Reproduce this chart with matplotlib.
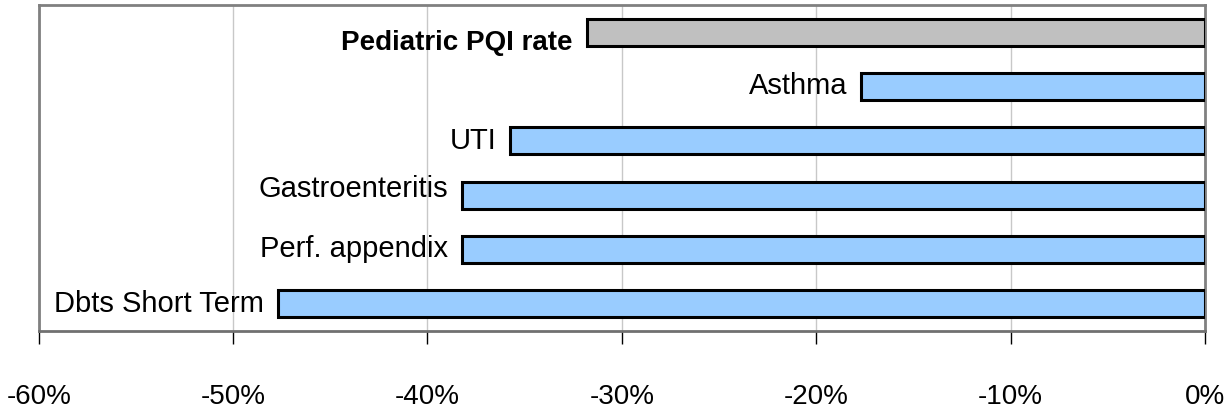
import matplotlib.pyplot as plt
from matplotlib.ticker import FuncFormatter

# categories from top to bottom, change in %
categories = ['Pediatric PQI rate', 'Asthma', 'UTI', 'Gastroenteritis',
              'Perf. appendix', 'Dbts Short Term']
values = [-31.8, -17.7, -35.75, -38.2, -38.2, -47.7]
colors = ['#C0C0C0', '#99CCFF', '#99CCFF', '#99CCFF', '#99CCFF', '#99CCFF']
xticks = [-60, -50, -40, -30, -20, -10, 0]

font = ['Liberation Sans', 'DejaVu Sans']

fig = plt.figure(figsize=(12.29, 4.12), dpi=100)
ax = fig.add_axes([0.0315, 0.1966, 0.949, 0.7914])

y = list(range(len(categories)))
ax.barh(y, values, height=0.5, color=colors, edgecolor='black', linewidth=2.2, zorder=3)

# data labels to the left of each bar (the total rate one in bold)
label_dy = [-7.5, 0, 0, 4.5, 0, 0]
for i, (yi, v, name, dy) in enumerate(zip(y, values, categories, label_dy)):
    ax.annotate(name, (v, yi), xytext=(-10, dy), textcoords='offset points',
                ha='right', va='center', fontsize=20 if i == 0 else 21,
                fontweight='bold' if i == 0 else 'normal', family=font, color='black')

ax.set_xlim(-60, 0)
ax.set_ylim(len(categories) - 0.5, -0.5)
ax.set_xticks(xticks)
ax.xaxis.set_major_formatter(FuncFormatter(lambda v, p: '%d%%' % v))
ax.set_yticks([])
ax.grid(True, axis='x', color='#C8C8C8', linewidth=1, zorder=0)

for s in ['left', 'top', 'right']:
    ax.spines[s].set_color('#808080')
    ax.spines[s].set_linewidth(2)
ax.spines['bottom'].set_color('#707070')
ax.spines['bottom'].set_linewidth(2)

ax.tick_params(axis='x', direction='out', length=9, width=1, color='black', pad=29)
for lbl in ax.get_xticklabels():
    lbl.set_family(font)
    lbl.set_fontsize(20)

fig.savefig('out.png', dpi=100)
